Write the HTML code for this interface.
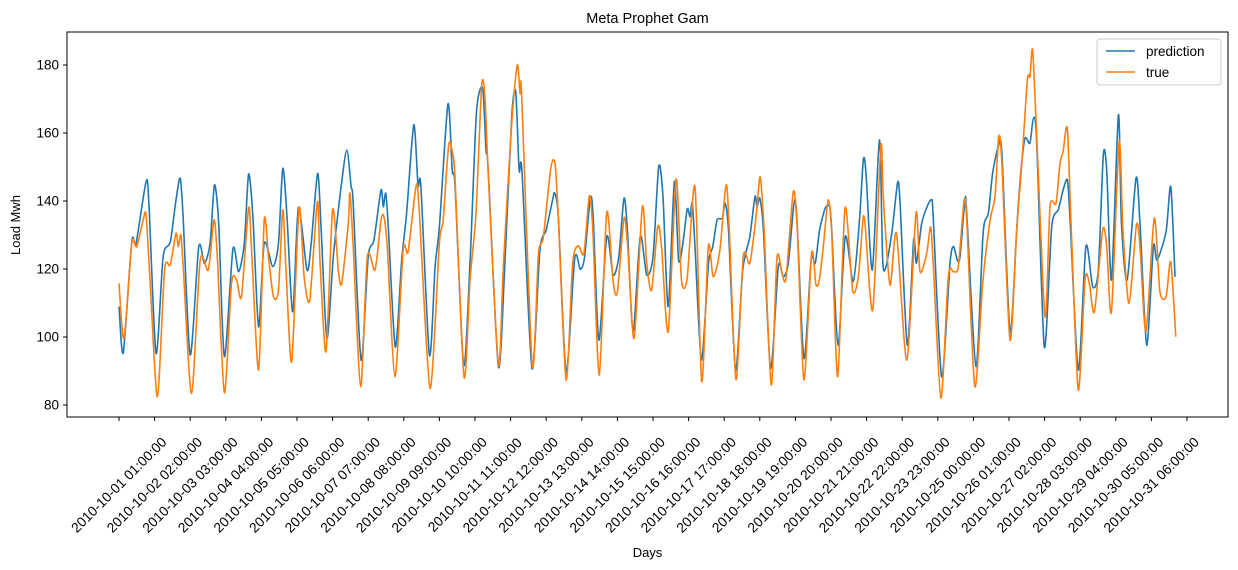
<!DOCTYPE html>
<html><head><meta charset="utf-8"><style>
html,body{margin:0;padding:0;background:#fff;}
svg{display:block;font-family:"Liberation Sans","DejaVu Sans",sans-serif;}
</style></head><body>
<svg id="chart" width="1238" height="570" viewBox="0 0 1238 570" xmlns="http://www.w3.org/2000/svg">
<rect x="0" y="0" width="1238" height="570" fill="#fff"/>
<text x="647.5" y="23" font-size="14.5" text-anchor="middle" fill="#000">Meta Prophet Gam</text>
<text x="647.5" y="557" font-size="13" text-anchor="middle" fill="#000">Days</text>
<text x="0" y="0" font-size="13" text-anchor="middle" fill="#000" transform="translate(20,225) rotate(-90)">Load Mwh</text>
<g id="plot"></g>
<g id="xticks"></g>
<g id="yticks"></g>
<rect x="67" y="32" width="1161" height="385" fill="none" stroke="#000" stroke-width="1"/>
<g>
<rect x="1097" y="39" width="124" height="46" rx="3" fill="#fff" fill-opacity="0.8" stroke="#ccc"/>
<line x1="1106" y1="51" x2="1135" y2="51" stroke="#1f77b4" stroke-width="1.6"/>
<text x="1146" y="56" font-size="13.5" fill="#000">prediction</text>
<line x1="1106" y1="72" x2="1135" y2="72" stroke="#ff7f0e" stroke-width="1.6"/>
<text x="1146" y="77" font-size="13.5" fill="#000">true</text>
</g>
</svg>
<script>
const predHours=[0,3,9,12,19,21,26,31,36,40,43,45,50,56,60,64,67,70,74,80,84,88,91,94,98,102,108,112,115,118,122,126,132,135,139.5,142,146,150.5,156,160,163,164.5,170,175,179,184,185.6,187.3,189,194,198.5,202,207,210,212,218,222,225,231,234,236,242,246.5,251,255.4,257.7,259.3,266.4,271,275.8,278.6,281,283,290,295.6,300,304.5,306,308.5,314,320,324,327,331,333,337,342.5,347,351,354.6,357,361,366,370.6,375,379,382,385.7,390,393,396,399,401,402.6,404.5,409,414,417,420,423.7,425.6,428,433,438,443,446.6,448,450,452.5,457.6,463,466.5,470,474,476,481,486,489,492,496,499,500.5,505,510,515.6,520,522.7,524.6,529,534,536.3,538.6,543,546.8,548.5,553.6,558,560,563.7,568,570.7,571.8,577.7,583.6,586,588.7,590.6,594,595.3,601.8,606.8,610.5,613.5,617.5,620,625.7,630.4,633.2,636.2,639.7,642.1,644.4,649.8,655,659.6,663,666,667.8,673.7,679,683.8,687.7,691.2,693.6,697,701.8,704,708,714.2,717,721.7,726.4,729,735.3,738.6,741.6];
const predValues=[109,95.4,128,127.6,145.7,139.3,95.2,123.6,128,140.3,146.7,135.4,94.7,126.4,121.7,127.6,144.7,133.4,94.2,125.8,119.2,127.6,147.9,135.4,103,127.6,120.7,127.6,149.6,135.4,107.4,138.1,119.7,127.6,148.1,131.5,99.6,123.6,144.2,155,144.2,139.3,93.2,123.6,128.5,143.2,138.3,142.3,133.4,97.1,122.6,136.4,162.4,144.7,144.2,94.7,120.7,132.4,168.5,149.1,144.2,91.8,121.7,165.8,173.1,155,149.1,91.3,121.7,164.8,172.2,149.1,148.6,90.8,125.6,131.5,140.3,142.3,135.4,89.8,123.1,119.9,123.6,140.8,135.4,99.1,129.5,118.2,123.6,140.8,131.5,101.6,129.5,118.2,123.6,150.1,141.3,108.9,145.7,122.6,127.6,137.6,135.4,139.3,126.6,93.2,121.7,126.6,134.4,134.9,139.3,131.5,90.3,119.7,129.5,141.3,138.3,140.8,131.5,90.8,120.7,117.7,121.7,139.3,135.4,93.7,122.6,121.7,131.5,137.9,138.3,131.5,97.6,129.5,116.3,134.4,152.1,148.1,119.7,158,122.6,120.7,131.5,145.4,139.3,97.6,128.5,121.7,133.4,138.8,140.3,135.4,88.3,121.7,126.6,122.6,123.6,140.1,136.4,91.3,130.5,136.4,148.1,156,154,101.6,131.5,148.1,158.4,157,164.3,157.9,97.1,132.4,137.4,143.2,146.2,135.4,90.3,126.6,114.8,119.7,153.5,149.1,116.8,165.3,133.4,116.8,146.7,133.4,97.6,126.6,122.6,131,144.2,117.7];
const trueHours=[0,3.5,9,12.4,17,19,21.8,27,32,36,40,41.6,43.5,45.2,51,57,62.7,66.7,69,74,79,82.7,86,91,93,98,102,105,108.4,112,115,117.3,121.3,126.4,130,134,139.3,141.2,145.4,150,154,156.4,161,162.2,164.5,169.7,174.4,179.8,184,186,188.4,193.8,199.6,203,208.6,210.7,218.4,225,227.7,231.5,234.3,236,242.3,246.5,250.7,254.7,257.1,259.3,266.4,270,275.8,279.7,281.6,282.8,290.2,294.5,298,303.2,306.2,308.5,314,318.6,322.5,326.5,330.3,332.7,337.3,342.5,347,350,354.6,357.2,361.7,367.5,370.6,374,378.3,381,385.7,391.2,395,399,404.5,409.2,413.8,417.3,422,426.3,428.6,433.3,438.4,443,447.5,450.3,453,458,462,465.4,468.4,473.5,476.3,481,486.4,489.5,491.8,494.6,498,500.5,504.7,509.8,515.2,519.2,522.3,523.9,529.3,535,536.7,541.4,546,553.2,559.7,562.5,567.2,570,571.8,577.2,582.4,586,589.4,593.4,595.3,601,606.5,611.7,615.2,617.8,620,625.7,630.4,634,637.9,639.7,641.6,644.4,650.3,653.8,658,660.8,663,666,669,673.7,678.4,681.4,685,690.8,693.6,697,702.3,705,709.3,714.5,717,721.2,727,731,735.3,738.6,742.1];
const trueValues=[115.8,99.6,127.6,126.6,134.4,135.9,116.8,82.4,119.7,121.2,130.5,126.6,130,119.7,83.4,122.6,119.7,134.4,123.6,83.6,115.8,116.6,111.9,137.9,126.6,90.3,134.4,123.6,111.9,113.8,137.4,119.7,92.7,137.9,117.7,110.9,139.8,121.7,95.7,137.4,119.7,115.8,133.4,142.3,126.6,85.4,123.6,119.7,134.4,135.4,126.6,88.3,125.6,125.1,144.2,138.3,84.9,127.6,134.4,156.5,154,146.2,88.3,116.8,136.4,174.1,169.7,148.1,91.8,121.7,162.9,180,171.7,170.7,91.8,124.1,129.5,149.6,151.1,135.4,87.4,121.7,126.8,124.6,141.5,131.5,88.8,136.6,116.3,113.3,134.9,126.6,99.6,138.3,121.7,113.8,132.4,126.6,101.6,146.4,116.8,117.3,144.2,86.9,126.6,117.7,125.6,144.7,131.5,87.4,123.6,121.7,135.9,147.1,131.5,85.9,123.1,119.2,117.3,142.7,131.5,87.4,124.6,115.3,116.8,126.6,140.3,130.5,88.3,137.9,113.8,117.7,133.9,133.4,107.9,156,141.3,115.3,130.5,93.2,136.4,119.2,124.6,132.4,121.7,82,117.7,119.2,120.7,139.8,134.4,85.4,115.8,134.4,141.3,158.9,151.1,99.1,131.5,151.1,175.6,176.6,184.4,159.9,106,138.3,139.3,151.1,154.5,161.1,128.5,84.4,116.8,115.8,107.4,131.5,126.6,107.4,157.4,131.5,109.9,132.9,126.6,101.6,134.9,113.3,111.9,122.1,100.1];
const yTicks=[80,100,120,140,160,180];
const xTickHours=[0,25,50,75,100,125,150,175,200,225,250,275,300,325,350,375,400,425,450,475,500,525,550,575,600,625,650,675,700,725,750];
const xTickLabels=["2010-10-01 01:00:00","2010-10-02 02:00:00","2010-10-03 03:00:00","2010-10-04 04:00:00","2010-10-05 05:00:00","2010-10-06 06:00:00","2010-10-07 07:00:00","2010-10-08 08:00:00","2010-10-09 09:00:00","2010-10-10 10:00:00","2010-10-11 11:00:00","2010-10-12 12:00:00","2010-10-13 13:00:00","2010-10-14 14:00:00","2010-10-15 15:00:00","2010-10-16 16:00:00","2010-10-17 17:00:00","2010-10-18 18:00:00","2010-10-19 19:00:00","2010-10-20 20:00:00","2010-10-21 21:00:00","2010-10-22 22:00:00","2010-10-23 23:00:00","2010-10-25 00:00:00","2010-10-26 01:00:00","2010-10-27 02:00:00","2010-10-28 03:00:00","2010-10-29 04:00:00","2010-10-30 05:00:00","2010-10-31 06:00:00"];
</script>
<script>
const NS="http://www.w3.org/2000/svg";
const X0=119, PXH=(1187-119)/750;
function xs(h){return X0+h*PXH;}
function ys(v){return 65+(180-v)*3.4;}
const gx=document.getElementById('xticks');
xTickHours.forEach((h,i)=>{
  const x=xs(h);
  const t=document.createElementNS(NS,'line');
  t.setAttribute('x1',x);t.setAttribute('x2',x);t.setAttribute('y1',417);t.setAttribute('y2',421);
  t.setAttribute('stroke','#000');
  
  
  gx.appendChild(t);
  const lab=xTickLabels[i]; if(!lab) return;
  const tx=document.createElementNS(NS,'text');
  tx.setAttribute('x',0);tx.setAttribute('y',0);
  tx.setAttribute('font-size','13.8');tx.setAttribute('text-anchor','middle');tx.setAttribute('dominant-baseline','central');
  tx.setAttribute('transform','translate('+x+',485) rotate(-45)');
  tx.textContent=lab;
  
  
  gx.appendChild(tx);
});
const gy=document.getElementById('yticks');
yTicks.forEach(v=>{
  const y=ys(v);
  const t=document.createElementNS(NS,'line');
  t.setAttribute('x1',63);t.setAttribute('x2',67);t.setAttribute('y1',y);t.setAttribute('y2',y);t.setAttribute('stroke','#000');
  
  
  gy.appendChild(t);
  const tx=document.createElementNS(NS,'text');
  tx.setAttribute('x',59);tx.setAttribute('y',y+4.5);tx.setAttribute('font-size','13.5');tx.setAttribute('text-anchor','end');
  tx.textContent=v;
  
  
  gy.appendChild(tx);
});
function pathFor(hs,vs){
  const p=hs.map((h,i)=>[xs(h),ys(vs[i])]);
  let d='M'+p[0][0].toFixed(1)+','+p[0][1].toFixed(1);
  for(let i=0;i<p.length-1;i++){
    const p0=p[i-1]||p[i],p1=p[i],p2=p[i+1],p3=p[i+2]||p2;
    const k=0.13;
    const c1=[p1[0]+(p2[0]-p0[0])*k,p1[1]+(p2[1]-p0[1])*k];
    const c2=[p2[0]-(p3[0]-p1[0])*k,p2[1]-(p3[1]-p1[1])*k];
    d+=' C'+c1[0].toFixed(1)+','+c1[1].toFixed(1)+' '+c2[0].toFixed(1)+','+c2[1].toFixed(1)+' '+p2[0].toFixed(1)+','+p2[1].toFixed(1);
  }
  return d;
}
const plot=document.getElementById('plot');
const pp=document.createElementNS(NS,'path');
pp.setAttribute('d',pathFor(predHours,predValues));
pp.setAttribute('fill','none');pp.setAttribute('stroke','#1f77b4');pp.setAttribute('stroke-width','1.6');pp.setAttribute('stroke-linejoin','round');


plot.appendChild(pp);
const tp=document.createElementNS(NS,'path');
tp.setAttribute('d',pathFor(trueHours,trueValues));
tp.setAttribute('fill','none');tp.setAttribute('stroke','#ff7f0e');tp.setAttribute('stroke-width','1.6');tp.setAttribute('stroke-linejoin','round');


plot.appendChild(tp);
</script>
</body></html>
